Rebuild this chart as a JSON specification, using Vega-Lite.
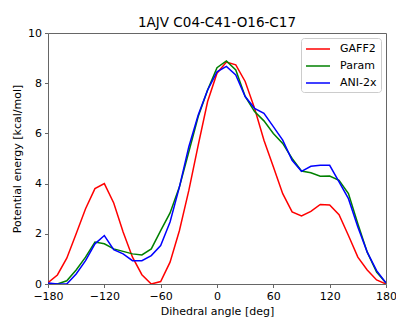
{
  "$schema": "https://vega.github.io/schema/vega-lite/v6.json",
  "width": 338,
  "height": 251,
  "autosize": {"type": "none"},
  "padding": {"left": 48, "top": 33, "right": 10, "bottom": 36},
  "background": "white",
  "title": {"text": "1AJV C04-C41-O16-C17", "font": "DejaVu Sans", "fontSize": 13.5, "fontWeight": "normal", "color": "black", "offset": -2},
  "config": {
    "font": "DejaVu Sans",
    "view": {"stroke": "#666", "strokeWidth": 1},
    "axis": {"grid": false, "domain": false, "tickColor": "#666", "tickSize": 3.5, "labelColor": "black", "labelFontSize": 11, "titleFontSize": 11, "titleFontWeight": "normal", "titleColor": "black", "labelPadding": 3, "labelFlush": false, "labelOverlap": false}
  },
  "data": {"values": [
    {"angle": -180, "GAFF2": 0.05, "Param": 0.02, "ANI-2x": 0.04},
    {"angle": -170, "GAFF2": 0.36, "Param": 0.0, "ANI-2x": 0.0},
    {"angle": -160, "GAFF2": 1.03, "Param": 0.13, "ANI-2x": 0.0},
    {"angle": -150, "GAFF2": 2.0, "Param": 0.56, "ANI-2x": 0.4},
    {"angle": -140, "GAFF2": 3.0, "Param": 1.07, "ANI-2x": 0.93},
    {"angle": -130, "GAFF2": 3.8, "Param": 1.67, "ANI-2x": 1.6},
    {"angle": -120, "GAFF2": 4.0, "Param": 1.6, "ANI-2x": 1.93},
    {"angle": -110, "GAFF2": 3.23, "Param": 1.4, "ANI-2x": 1.37},
    {"angle": -100, "GAFF2": 2.07, "Param": 1.3, "ANI-2x": 1.2},
    {"angle": -90, "GAFF2": 1.07, "Param": 1.2, "ANI-2x": 0.93},
    {"angle": -80, "GAFF2": 0.37, "Param": 1.16, "ANI-2x": 0.93},
    {"angle": -70, "GAFF2": 0.0, "Param": 1.4, "ANI-2x": 1.13},
    {"angle": -60, "GAFF2": 0.1, "Param": 2.13, "ANI-2x": 1.53},
    {"angle": -50, "GAFF2": 0.87, "Param": 2.83, "ANI-2x": 2.47},
    {"angle": -40, "GAFF2": 2.13, "Param": 3.87, "ANI-2x": 3.87},
    {"angle": -30, "GAFF2": 3.73, "Param": 5.27, "ANI-2x": 5.47},
    {"angle": -20, "GAFF2": 5.53, "Param": 6.67, "ANI-2x": 6.73},
    {"angle": -10, "GAFF2": 7.27, "Param": 7.73, "ANI-2x": 7.73},
    {"angle": 0, "GAFF2": 8.4, "Param": 8.62, "ANI-2x": 8.45},
    {"angle": 10, "GAFF2": 8.84, "Param": 8.89, "ANI-2x": 8.67},
    {"angle": 20, "GAFF2": 8.73, "Param": 8.53, "ANI-2x": 8.33},
    {"angle": 30, "GAFF2": 8.07, "Param": 7.47, "ANI-2x": 7.47},
    {"angle": 40, "GAFF2": 7.0, "Param": 6.87, "ANI-2x": 7.0},
    {"angle": 50, "GAFF2": 5.73, "Param": 6.5, "ANI-2x": 6.8},
    {"angle": 60, "GAFF2": 4.67, "Param": 6.0, "ANI-2x": 6.27},
    {"angle": 70, "GAFF2": 3.6, "Param": 5.6, "ANI-2x": 5.73},
    {"angle": 80, "GAFF2": 2.87, "Param": 5.0, "ANI-2x": 4.93},
    {"angle": 90, "GAFF2": 2.71, "Param": 4.5, "ANI-2x": 4.49},
    {"angle": 100, "GAFF2": 2.89, "Param": 4.43, "ANI-2x": 4.69},
    {"angle": 110, "GAFF2": 3.17, "Param": 4.29, "ANI-2x": 4.73},
    {"angle": 120, "GAFF2": 3.15, "Param": 4.3, "ANI-2x": 4.73},
    {"angle": 130, "GAFF2": 2.76, "Param": 4.13, "ANI-2x": 4.07},
    {"angle": 140, "GAFF2": 1.93, "Param": 3.6, "ANI-2x": 3.4},
    {"angle": 150, "GAFF2": 1.07, "Param": 2.4, "ANI-2x": 2.27},
    {"angle": 160, "GAFF2": 0.56, "Param": 1.27, "ANI-2x": 1.27},
    {"angle": 170, "GAFF2": 0.16, "Param": 0.47, "ANI-2x": 0.53},
    {"angle": 180, "GAFF2": 0.0, "Param": 0.04, "ANI-2x": 0.04}
  ]},
  "transform": [{"fold": ["GAFF2", "Param", "ANI-2x"], "as": ["method", "energy"]}],
  "mark": {"type": "line", "strokeWidth": 1.5, "clip": true},
  "encoding": {
    "x": {"field": "angle", "type": "quantitative", "scale": {"domain": [-180, 180], "nice": false}, "axis": {"values": [-180, -120, -60, 0, 60, 120, 180], "title": "Dihedral angle [deg]", "labelExpr": "replace(datum.label, '-', '\u2212')", "titlePadding": 4}},
    "y": {"field": "energy", "type": "quantitative", "scale": {"domain": [0, 10], "nice": false}, "axis": {"values": [0, 2, 4, 6, 8, 10], "title": "Potential energy [kcal/mol]", "titlePadding": 5}},
    "color": {"field": "method", "type": "nominal", "sort": ["GAFF2", "Param", "ANI-2x"],
      "scale": {"domain": ["GAFF2", "Param", "ANI-2x"], "range": ["#ff0000", "#008000", "#0000ff"]},
      "legend": {"title": null, "orient": "top-right", "offset": 5, "symbolType": "M-1,0H3", "symbolSize": 144, "symbolStrokeWidth": 1.5, "symbolFillColor": "transparent", "labelFontSize": 11, "labelColor": "black", "strokeColor": "#ccc", "fillColor": "white", "cornerRadius": 3, "padding": 4, "rowPadding": 5, "labelOffset": 21}
    }
  }
}
